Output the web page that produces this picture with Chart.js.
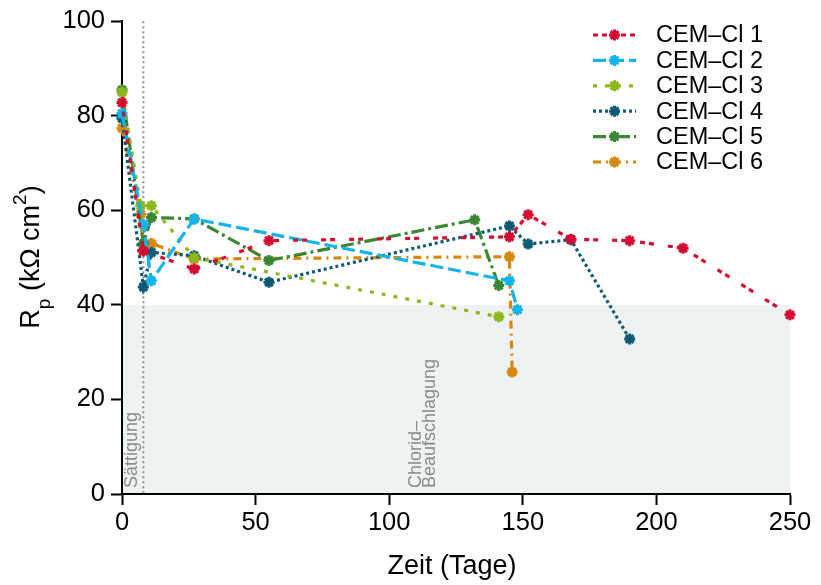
<!DOCTYPE html>
<html>
<head>
<meta charset="utf-8">
<script src="https://cdn.jsdelivr.net/npm/chart.js@4.4.0/dist/chart.umd.min.js"></script>
<style>
  html, body { margin: 0; padding: 0; background: #fff; }
</style>
</head>
<body>
<canvas id="myChart" width="821" height="585"></canvas>
<script>
// data (x = Zeit in Tagen, y = Rp in kOhm cm2)
let labels = ["CEM–Cl 1", "CEM–Cl 2", "CEM–Cl 3", "CEM–Cl 4", "CEM–Cl 5", "CEM–Cl 6"];
let days1 = [0, 8, 27, 55, 145, 152, 168, 190, 210, 250];
let rp1 = [82.8, 51.4, 47.6, 53.6, 54.4, 59.1, 53.9, 53.6, 52.0, 37.9];
let days2 = [0, 8, 11, 27, 145, 148];
let rp2 = [80.5, 57, 45.1, 58.2, 45.1, 39];
let days3 = [0, 7, 11, 27, 141];
let rp3 = [85, 61, 61, 50, 37.5];
let days4 = [0, 8, 11, 27, 55, 145, 152, 168, 190];
let rp4 = [79.5, 43.8, 51.1, 50.4, 44.8, 56.7, 52.9, 53.8, 32.8];
let days5 = [0, 8, 11, 27, 55, 132, 141];
let rp5 = [85.5, 53, 58.5, 58.2, 49.4, 58, 44.1];
let days6 = [0, 7, 8, 11, 27, 145, 146];
let rp6 = [77.4, 59.2, 51.5, 53, 49.7, 50.2, 25.8];
let xTicks = [0, 50, 100, 150, 200, 250];
let yTicks = [0, 20, 40, 60, 80, 100];
let saturationDay = 8;
let thresholdRp = 40;

let colors = ["#d50a30", "#12b4ea", "#8db81c", "#0e5a73", "#3a8632", "#d6870d"];
let dashes = [[5, 4, 5, 14], [13, 5], [4, 8], [3, 3], [13, 4, 3, 4], [8, 5, 2, 5]];
let FONT = "'Liberation Sans', Arial, Helvetica, sans-serif";

function points(xs, ys) {
  let out = [];
  for (let i = 0; i < xs.length; i++) {
    out.push({ x: xs[i], y: ys[i] });
  }
  return out;
}

let allDays = [days1, days2, days3, days4, days5, days6];
let allRp = [rp1, rp2, rp3, rp4, rp5, rp6];
let datasets = [];
for (let i = 0; i < 6; i++) {
  datasets.push({
    label: labels[i],
    data: points(allDays[i], allRp[i]),
    borderColor: colors[i],
    backgroundColor: colors[i],
    borderWidth: 3.2,
    borderDash: dashes[i],
    pointStyle: "star",
    pointRadius: 5.5,
    pointBorderWidth: 3,
    pointBorderColor: colors[i],
    pointBackgroundColor: colors[i],
    tension: 0,
    clip: false,
  });
}

function drawStar(ctx, x, y, r, color) {
  ctx.save();
  ctx.setLineDash([]);
  ctx.strokeStyle = color;
  ctx.lineWidth = 3;
  ctx.beginPath();
  for (let k = 0; k < 4; k++) {
    let a = (k * Math.PI) / 4;
    ctx.moveTo(x - r * Math.cos(a), y - r * Math.sin(a));
    ctx.lineTo(x + r * Math.cos(a), y + r * Math.sin(a));
  }
  ctx.stroke();
  ctx.restore();
}

let extras = {
  id: "extras",
  beforeDraw(chart) {
    let ctx = chart.ctx;
    let xs = chart.scales.x;
    let ys = chart.scales.y;
    ctx.save();
    // shaded zone below 40
    ctx.fillStyle = "#eef2f3";
    let top = ys.getPixelForValue(thresholdRp);
    let bot = ys.getPixelForValue(0);
    ctx.fillRect(xs.getPixelForValue(0), top, xs.getPixelForValue(250) - xs.getPixelForValue(0), bot - top);
    // saturation line
    let sx = xs.getPixelForValue(saturationDay);
    ctx.strokeStyle = "#8f8f8f";
    ctx.lineWidth = 2;
    ctx.setLineDash([2, 3]);
    ctx.beginPath();
    ctx.moveTo(sx, ys.getPixelForValue(100));
    ctx.lineTo(sx, bot);
    ctx.stroke();
    ctx.restore();
  },
  beforeDatasetsDraw(chart) {
    let ctx = chart.ctx;
    ctx.save();
    ctx.fillStyle = "#8a8a8a";
    ctx.font = "18px " + FONT;
    ctx.textAlign = "left";
    ctx.textBaseline = "alphabetic";
    let notes = [["Sättigung", 137, 488], ["Chlorid–", 421, 488], ["Beaufschlagung", 435, 488]];
    for (let n of notes) {
      ctx.save();
      ctx.translate(n[1], n[2]);
      ctx.rotate(-Math.PI / 2);
      ctx.fillText(n[0], 0, 0);
      ctx.restore();
    }
    ctx.restore();
  },
  afterDraw(chart) {
    let ctx = chart.ctx;
    ctx.save();
    ctx.fillStyle = "#000";
    // x title
    ctx.font = "27px " + FONT;
    ctx.textAlign = "center";
    ctx.textBaseline = "alphabetic";
    ctx.fillText("Zeit (Tage)", 452, 574);
    // y title with sub and superscript
    let parts = [["R", 27, 0], ["p", 19, 11], [" (kΩ cm", 27, 0], ["2", 19, -13], [")", 27, 0]];
    let total = 0;
    for (let p of parts) {
      ctx.font = p[1] + "px " + FONT;
      total += ctx.measureText(p[0]).width;
    }
    ctx.translate(39, 257);
    ctx.rotate(-Math.PI / 2);
    ctx.textAlign = "left";
    let px = -total / 2;
    for (let p of parts) {
      ctx.font = p[1] + "px " + FONT;
      ctx.fillText(p[0], px, p[2]);
      px += ctx.measureText(p[0]).width;
    }
    ctx.restore();

    // legend
    ctx.save();
    for (let i = 0; i < labels.length; i++) {
      let ly = 35 + i * 25.4;
      ctx.strokeStyle = colors[i];
      ctx.lineWidth = 3.2;
      ctx.setLineDash(dashes[i]);
      ctx.beginPath();
      ctx.moveTo(593, ly);
      ctx.lineTo(636, ly);
      ctx.stroke();
      drawStar(ctx, 614.5, ly, 5.5, colors[i]);
      ctx.fillStyle = "#000";
      ctx.font = "23.5px " + FONT;
      ctx.textAlign = "left";
      ctx.textBaseline = "middle";
      ctx.fillText(labels[i], 656, ly + 1);
    }
    ctx.restore();
  },
};

let myChart = document.getElementById("myChart").getContext("2d");

var chart = new Chart(myChart, {
  type: "line",
  data: { datasets: datasets },
  plugins: [extras],
  options: {
    responsive: false,
    animation: false,
    devicePixelRatio: 1,
    layout: { padding: { top: 21, right: 31, left: 0, bottom: 0 } },
    plugins: {
      legend: { display: false },
      tooltip: { enabled: false },
    },
    scales: {
      x: {
        type: "linear",
        min: 0,
        max: 250,
        afterBuildTicks: (s) => { s.ticks = xTicks.map((v) => ({ value: v })); },
        afterFit: (s) => { s.height = 91; },
        ticks: { color: "#000", font: { size: 25.5, family: FONT }, padding: 3, maxRotation: 0 },
        grid: { drawOnChartArea: false, drawTicks: true, tickLength: 11, tickColor: "#000", tickWidth: 2 },
        border: { display: true, color: "#000", width: 2 },
      },
      y: {
        min: 0,
        max: 100,
        afterBuildTicks: (s) => { s.ticks = yTicks.map((v) => ({ value: v })); },
        afterFit: (s) => { s.width = 122; },
        ticks: { color: "#000", font: { size: 25.5, family: FONT }, padding: 6 },
        grid: { drawOnChartArea: false, drawTicks: true, tickLength: 11, tickColor: "#000", tickWidth: 2 },
        border: { display: true, color: "#000", width: 2 },
      },
    },
  },
});
</script>
</body>
</html>
